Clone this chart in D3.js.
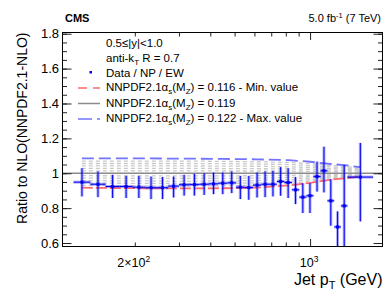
<!DOCTYPE html>
<html><head><meta charset="utf-8">
<script src="https://cdn.jsdelivr.net/npm/d3@7"></script>
<style>
body{margin:0;background:#fff}
svg{display:block}
text{font-family:"Liberation Sans",Arial,Helvetica,sans-serif;fill:#000}
</style>
</head><body>
<svg id="c" width="390" height="302"></svg>
<script>
// ---------- DATA ----------
const binEdges = [114,133,153,174,196,220,245,272,300,330,362,395,430,468,507,548,592,638,686,737,790,846,905,967,1032,1101,1172,1248,1327,1410,1784];
const dataRatio = [0.949,0.937,0.924,0.924,0.920,0.917,0.917,0.926,0.934,0.935,0.937,0.939,0.943,0.945,0.920,0.918,0.932,0.937,0.937,0.953,0.947,0.905,0.863,0.871,0.981,1.014,0.842,0.692,0.813,0.978];
const dataHigh  = [1.029,1.010,0.991,0.985,0.985,0.981,0.978,0.981,0.991,0.997,1.000,1.004,1.004,1.010,0.985,0.985,1.004,1.010,1.014,1.035,1.029,0.978,0.943,0.943,1.067,1.152,0.966,0.781,1.048,1.174];
const dataLow   = [0.867,0.863,0.858,0.858,0.858,0.852,0.852,0.861,0.872,0.872,0.876,0.880,0.880,0.886,0.852,0.848,0.861,0.863,0.867,0.871,0.858,0.823,0.772,0.772,0.895,0.890,0.699,0.500,0.500,0.724];

const theoryPt   = [123,208,315,450,615,820,1000,1210,1400,1586];
const ratioAs1160 = [0.917,0.914,0.913,0.914,0.918,0.930,0.945,0.963,0.972,0.980]; // Min. value
const ratioAs1165 = [0.931,0.928,0.927,0.928,0.931,0.941,0.954,0.968,0.976,0.982];
const ratioAs1170 = [0.944,0.942,0.941,0.942,0.945,0.953,0.963,0.974,0.980,0.985];
const ratioAs1175 = [0.958,0.956,0.955,0.956,0.958,0.964,0.972,0.980,0.984,0.988];
const ratioAs1180 = [0.972,0.971,0.970,0.971,0.972,0.976,0.981,0.986,0.989,0.991];
const ratioAs1185 = [0.986,0.985,0.985,0.985,0.986,0.988,0.990,0.993,0.994,0.995];
const ratioAs1195 = [1.014,1.014,1.014,1.013,1.013,1.012,1.011,1.009,1.008,1.006];
const ratioAs1200 = [1.028,1.028,1.028,1.027,1.026,1.025,1.022,1.018,1.015,1.012];
const ratioAs1205 = [1.042,1.042,1.042,1.041,1.040,1.037,1.033,1.027,1.023,1.018];
const ratioAs1210 = [1.056,1.056,1.056,1.055,1.053,1.050,1.044,1.036,1.030,1.024];
const ratioAs1215 = [1.070,1.070,1.070,1.068,1.066,1.062,1.055,1.045,1.038,1.030];
const ratioAs1220 = [1.085,1.085,1.084,1.082,1.080,1.075,1.066,1.053,1.045,1.035]; // Max. value
const grayCurves = [ratioAs1165,ratioAs1170,ratioAs1175,ratioAs1180,ratioAs1185,ratioAs1195,ratioAs1200,ratioAs1205,ratioAs1210,ratioAs1215];

const yMajorTicks = [0.6,0.8,1.0,1.2,1.4,1.6,1.8];
const yMinorTicks = [0.6,0.65,0.7,0.75,0.8,0.85,0.9,0.95,1.0,1.05,1.1,1.15,1.2,1.25,1.3,1.35,1.4,1.45,1.5,1.55,1.6,1.65,1.7,1.75,1.8];
const xMinorTicks = [200,300,400,500,600,700,800,900];
const xMajorTicks = [1000];

// ---------- LAYOUT ----------
const svg = d3.select("#c");
const L = 62.5, R = 382.5, T = 32.5, B = 246.5;
const x = d3.scaleLog().domain([103, 1944]).range([L, R]);
const y = d3.scaleLinear().domain([0.58, 1.807]).range([B, T]);

svg.append("defs").append("clipPath").attr("id","pa")
  .append("rect").attr("x",L).attr("y",T).attr("width",R-L).attr("height",B-T);
const plot = svg.append("g").attr("clip-path","url(#pa)");

// theory curves
const line = d3.line().x((d,i)=>x(theoryPt[i])).y(d=>y(d));
grayCurves.forEach(c=>{
  plot.append("path").attr("d",line(c)).attr("fill","none")
    .attr("stroke","#c9c9c9").attr("stroke-width",1.3).attr("stroke-dasharray","4,3");
});
plot.append("path").attr("d",line(ratioAs1220)).attr("fill","none")
  .attr("stroke","#7373ff").attr("stroke-width",1.8).attr("stroke-dasharray","12,5");
plot.append("path").attr("d",line(ratioAs1160)).attr("fill","none")
  .attr("stroke","#ff6a6a").attr("stroke-width",1.8).attr("stroke-dasharray","11,3");
plot.append("line").attr("x1",L).attr("x2",R).attr("y1",y(1)).attr("y2",y(1))
  .attr("stroke","#8c8c8c").attr("stroke-width",1.5);

// data
const pts = dataRatio.map((v,i)=>({v, lo:dataLow[i], hi:dataHigh[i], a:binEdges[i], b:binEdges[i+1], c:Math.sqrt(binEdges[i]*binEdges[i+1])}));
const light = "rgba(40,40,255,0.38)";
const dark = "#0000f0";
const g = plot.append("g");
pts.forEach(p=>{
  const xc = x(p.c);
  g.append("rect").attr("x",xc-1.5).attr("width",3).attr("y",y(p.hi)).attr("height",y(p.lo)-y(p.hi)).attr("fill",light);
  g.append("rect").attr("x",x(p.a)).attr("width",x(p.b)-x(p.a)).attr("y",y(p.v)-1.5).attr("height",3).attr("fill",light);
  g.append("line").attr("x1",xc).attr("x2",xc).attr("y1",y(p.hi)).attr("y2",y(p.lo)).attr("stroke",dark).attr("stroke-width",1);
  g.append("line").attr("x1",x(p.a)).attr("x2",x(p.b)).attr("y1",y(p.v)).attr("y2",y(p.v)).attr("stroke",dark).attr("stroke-width",1);
  g.append("rect").attr("x",xc-1.5).attr("y",y(p.v)-1.5).attr("width",3).attr("height",3).attr("fill",dark);
});

// ---------- AXES ----------
function strip(sel){ sel.select(".domain").remove(); sel.selectAll(".tick line").attr("stroke","#222"); }
svg.append("g").attr("transform",`translate(${L},0)`)
  .call(d3.axisLeft(y).tickValues(yMinorTicks).tickSize(-4.5).tickFormat("")).call(strip);
svg.append("g").attr("transform",`translate(${L},0)`)
  .call(d3.axisLeft(y).tickValues(yMajorTicks).tickSize(-9).tickPadding(3.5)
    .tickFormat(d=>d===1?"1":d.toFixed(1))).call(strip)
  .selectAll("text").attr("font-size","13px").attr("font-family","Liberation Sans, Arial, sans-serif");
svg.append("g").attr("transform",`translate(${R},0)`)
  .call(d3.axisRight(y).tickValues(yMinorTicks).tickSize(-4.5).tickFormat("")).call(strip);
svg.append("g").attr("transform",`translate(${R},0)`)
  .call(d3.axisRight(y).tickValues(yMajorTicks).tickSize(-9).tickFormat("")).call(strip);

svg.append("g").attr("transform",`translate(0,${B})`)
  .call(d3.axisBottom(x).tickValues(xMinorTicks).tickSize(-4).tickFormat("")).call(strip);
svg.append("g").attr("transform",`translate(0,${B})`)
  .call(d3.axisBottom(x).tickValues(xMajorTicks).tickSize(-7.5).tickFormat("")).call(strip);
svg.append("g").attr("transform",`translate(0,${T})`)
  .call(d3.axisTop(x).tickValues(xMinorTicks).tickSize(-4).tickFormat("")).call(strip);
svg.append("g").attr("transform",`translate(0,${T})`)
  .call(d3.axisTop(x).tickValues(xMajorTicks).tickSize(-7.5).tickFormat("")).call(strip);

svg.append("rect").attr("x",L).attr("y",T).attr("width",R-L).attr("height",B-T)
  .attr("fill","none").attr("stroke","#000").attr("stroke-width",1);

// x tick labels
function powLabel(px, base, exp){
  const t = svg.append("text").attr("x",px).attr("y",266.5).attr("text-anchor","middle").attr("font-size","12.5px");
  t.append("tspan").text(base);
  t.append("tspan").attr("dy",-5).attr("font-size","8.5px").text(exp);
}
powLabel(x(200)-1, "2×10", "2");
powLabel(x(1000)-1, "10", "3");

// axis titles
const xt = svg.append("text").attr("x",R).attr("y",285).attr("text-anchor","end").attr("font-size","16px");
xt.append("tspan").text("Jet p");
xt.append("tspan").attr("dy",4).attr("font-size","11px").text("T");
xt.append("tspan").attr("dy",-4).text(" (GeV)");

svg.append("text").attr("transform","translate(27,32.5) rotate(-90)").attr("text-anchor","end")
  .attr("font-size","14px").text("Ratio to NLO(NNPDF2.1-NLO)");

// header
svg.append("text").attr("x",65).attr("y",21.5).attr("font-size","11px").attr("font-weight","bold").text("CMS");
const lum = svg.append("text").attr("x",381).attr("y",21.5).attr("text-anchor","end").attr("font-size","11px");
lum.append("tspan").text("5.0 fb");
lum.append("tspan").attr("dy",-4).attr("font-size","7.5px").text("-1");
lum.append("tspan").attr("dy",4).text(" (7 TeV)");

// legend
const LX = 106, fs = "11.5px", sfs = "8px";
svg.append("text").attr("x",LX).attr("y",46.5).attr("font-size",fs).text("0.5≤|y|<1.0");
const ak = svg.append("text").attr("x",LX).attr("y",61.5).attr("font-size",fs);
ak.append("tspan").text("anti-k");
ak.append("tspan").attr("dy",3).attr("font-size",sfs).text("T");
ak.append("tspan").attr("dy",-3).text(" R = 0.7");
svg.append("rect").attr("x",89.5).attr("y",71).attr("width",2.5).attr("height",2.5).attr("fill",dark);
svg.append("text").attr("x",LX).attr("y",76.5).attr("font-size",fs).text("Data / NP / EW");

function asLabel(yb, val, suffix){
  const t = svg.append("text").attr("x",LX).attr("y",yb).attr("font-size",fs);
  t.append("tspan").text("NNPDF2.1α");
  t.append("tspan").attr("dy",3).attr("font-size",sfs).text("s");
  t.append("tspan").attr("dy",-3).text("(M");
  t.append("tspan").attr("dy",3).attr("font-size",sfs).text("Z");
  t.append("tspan").attr("dy",-3).text(") = " + val + suffix);
}
svg.append("line").attr("x1",78).attr("x2",100).attr("y1",88).attr("y2",88)
  .attr("stroke","#ff6a6a").attr("stroke-width",1.5).attr("stroke-dasharray","9,6");
asLabel(91, "0.116", " - Min. value");
svg.append("line").attr("x1",78).attr("x2",100).attr("y1",103.5).attr("y2",103.5)
  .attr("stroke","#8c8c8c").attr("stroke-width",1.5);
asLabel(106.5, "0.119", "");
svg.append("line").attr("x1",78).attr("x2",100).attr("y1",119).attr("y2",119)
  .attr("stroke","#7373ff").attr("stroke-width",1.5).attr("stroke-dasharray","14,5");
asLabel(122, "0.122", " - Max. value");
</script>
</body></html>
